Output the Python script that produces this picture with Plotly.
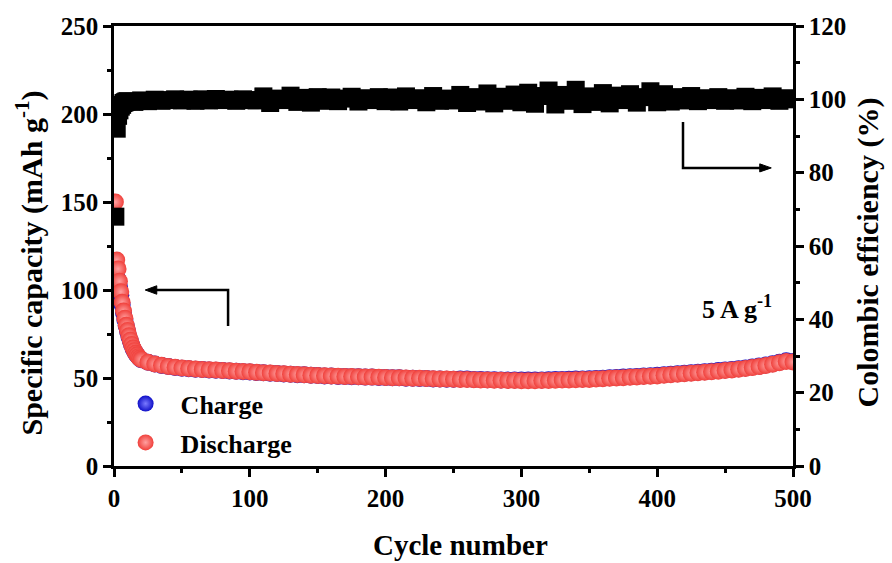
import plotly.graph_objects as go

# ---------------- data ----------------
cycles = list(range(1, 21)) + list(range(25, 501, 5))

discharge = [150, 117, 112, 105, 99, 93, 88, 84, 80, 77, 74, 71.5, 69, 67, 65.5, 64, 63, 62, 61.2, 60.5,
             59, 58, 57.2, 56.6, 56.1, 55.7, 55.4, 55.1, 54.9, 54.7, 54.5, 54.3, 54.1, 53.9, 53.7, 53.5,
             53.2, 53.0, 52.8, 52.6, 52.4, 52.2, 52.0, 51.8, 51.6, 51.4,
             51.3, 51.2, 51.0, 50.9, 50.8, 50.7, 50.6, 50.5, 50.4, 50.3,
             50.2, 50.1, 50.0, 49.9, 49.8, 49.7, 49.6, 49.5, 49.4, 49.3,
             49.2, 49.1, 49.0, 48.9, 48.8, 48.7, 48.7, 48.6, 48.6, 48.5,
             48.5, 48.5, 48.6, 48.6, 48.7, 48.8, 48.9, 49.0, 49.1, 49.2,
             49.4, 49.6, 49.8, 50.0, 50.2, 50.4, 50.6, 50.8, 51.0, 51.2,
             51.5, 51.8, 52.1, 52.4, 52.7, 53.0, 53.3, 53.6, 53.9, 54.2,
             54.6, 55.0, 55.4, 55.9, 56.5, 57.1, 57.8, 58.6, 59.4, 59.1]

charge = [102, 107, 106, 102, 97, 91.5, 87, 83, 79.5, 76.5, 73.5, 71, 68.7, 66.8, 65.3, 63.9, 62.9, 61.9, 61.1, 60.4,
          58.9, 57.9, 57.1, 56.5, 56.0, 55.6, 55.3, 55.0, 54.8, 54.6, 54.4, 54.2, 54.0, 53.8, 53.6, 53.4,
          53.1, 53.0, 52.7, 52.6, 52.3, 52.2, 51.9, 51.8, 51.5, 51.4,
          51.2, 51.2, 50.9, 50.9, 50.7, 50.7, 50.5, 50.5, 50.3, 50.3,
          50.1, 50.1, 49.9, 49.9, 49.7, 49.7, 49.5, 49.5, 49.3, 49.3,
          49.5, 49.4, 49.2, 49.2, 49.0, 49.0, 48.9, 48.9, 48.8, 48.8,
          48.8, 48.9, 48.9, 49.0, 49.1, 49.2, 49.3, 49.4, 49.5, 49.6,
          49.7, 49.9, 50.1, 50.3, 50.5, 50.7, 50.9, 51.1, 51.3, 51.5,
          51.8, 52.1, 52.4, 52.7, 53.0, 53.3, 53.6, 53.9, 54.2, 54.5,
          54.9, 55.3, 55.7, 56.2, 56.8, 57.4, 58.1, 58.9, 59.8, 59.4]

ce_cycles = list(range(1, 11)) + list(range(15, 501, 5))
ce = [68, 92, 95.5, 97, 98, 98.5, 99, 99.2, 99.4, 99.5,
      99.3, 99.7, 99.5, 99.9, 99.6, 99.8, 100.0, 99.7,
      99.9, 99.6, 100.0, 99.7, 100.1, 99.8, 99.9, 99.6, 100.0, 99.8,
      99.7, 100.8, 99.0, 100.2, 99.8, 101.0, 99.3, 100.4, 99.1, 100.6,
      99.6, 100.5, 99.5, 100.2, 100.7, 99.4, 100.3, 99.8, 100.6, 99.5,
      100.5, 99.4, 100.8, 99.8, 100.3, 99.2, 100.9, 99.6, 100.2, 99.7,
      101.2, 99.0, 100.6, 99.4, 101.6, 98.9, 100.7, 99.6, 101.3, 99.2,
      101.8, 98.8, 100.9, 102.4, 98.6, 101.2, 99.6, 102.6, 98.7, 100.8,
      99.3, 101.7, 98.9, 101.0, 99.8, 101.4, 99.1, 100.6, 102.2, 99.2,
      101.4, 99.4, 100.6, 99.7, 100.9, 99.5, 100.3, 99.8, 100.6, 99.6,
      100.3, 99.7, 100.7, 99.5, 100.4, 99.8, 100.8, 99.6, 100.3, 100.0]

# ---------------- figure ----------------
FONT = "Liberation Serif, Times New Roman, serif"

fig = go.Figure()

fig.add_trace(go.Scatter(
    x=cycles, y=charge, mode="markers", name="<b>Charge</b>", legendgroup="a",
    marker=dict(symbol="circle", size=17, color="#1010c8",
                gradient=dict(type="radial", color="#7a7aff"), line=dict(width=0)),
))
fig.add_trace(go.Scatter(
    x=cycles, y=discharge, mode="markers", name="<b>Discharge</b>", legendgroup="b",
    marker=dict(symbol="circle", size=17, color="#f0403b",
                gradient=dict(type="radial", color="#ffa0a0"), line=dict(width=0)),
))
fig.add_trace(go.Scatter(
    x=ce_cycles, y=ce, mode="markers", yaxis="y2", showlegend=False,
    marker=dict(symbol="square", size=18, color="black", line=dict(width=0)),
))

axis_common = dict(
    showline=True, linecolor="black", linewidth=2.5,
    ticks="outside", ticklen=8, tickwidth=2.5, tickcolor="black",
    showgrid=False, zeroline=False,
    tickfont=dict(family=FONT, size=25, color="black", weight="bold"),
)

fig.update_layout(
    width=892, height=563,
    margin=dict(l=114, r=99, t=26, b=97),
    paper_bgcolor="white", plot_bgcolor="white",
    font=dict(family=FONT, color="black"),
    xaxis=dict(
        range=[0, 500], dtick=100, tick0=0, mirror=True,
        minor=dict(ticks="outside", ticklen=4, tickwidth=2.5, dtick=50, tickcolor="black"),
        **axis_common,
    ),
    yaxis=dict(
        range=[0, 250], dtick=50, tick0=0,
        minor=dict(ticks="outside", ticklen=4, tickwidth=2.5, dtick=25, tickcolor="black"),
        **axis_common,
    ),
    yaxis2=dict(
        range=[0, 120], dtick=20, tick0=0, overlaying="y", side="right",
        minor=dict(ticks="outside", ticklen=4, tickwidth=2.5, dtick=10, tickcolor="black"),
        **axis_common,
    ),
    legend=dict(
        x=-0.005, y=0.195, xanchor="left", yanchor="top",
        bgcolor="rgba(0,0,0,0)", borderwidth=0,
        font=dict(family=FONT, size=26, color="black"),
        itemsizing="trace", itemwidth=60, tracegroupgap=2,
    ),
    showlegend=True,
)

# axis titles
fig.add_annotation(x=0.511, y=-0.18, xref="paper", yref="paper", text="<b>Cycle number</b>",
                   showarrow=False, xanchor="center", yanchor="middle",
                   font=dict(family=FONT, size=29, color="black"))
fig.add_annotation(x=-0.124, y=0.462, xref="paper", yref="paper",
                   text="<b>Specific capacity (mAh g<sup>-1</sup>)</b>", textangle=-90,
                   showarrow=False, xanchor="center", yanchor="middle",
                   font=dict(family=FONT, size=30, color="black"))
fig.add_annotation(x=1.111, y=0.486, xref="paper", yref="paper",
                   text="<b>Colombic efficiency (%)</b>", textangle=-90,
                   showarrow=False, xanchor="center", yanchor="middle",
                   font=dict(family=FONT, size=30, color="black"))

# "5 A g-1" label
fig.add_annotation(x=459, y=90, xref="x", yref="y", text="<b>5 A g<sup>-1</sup></b>",
                   showarrow=False, font=dict(family=FONT, size=26, color="black"))

# left arrow (points to capacity axis)
fig.add_shape(type="path", xref="x", yref="y",
              path="M 84,79.5 L 84,100 L 30,100", line=dict(color="black", width=2.5))
fig.add_shape(type="path", xref="x", yref="y",
              path="M 23,100 L 31.5,102.4 L 31.5,97.6 Z",
              fillcolor="black", line=dict(color="black", width=1))

# right arrow (points to CE axis)
fig.add_shape(type="path", xref="x", yref="y2",
              path="M 419,93.8 L 419,81.3 L 477,81.3", line=dict(color="black", width=2.5))
fig.add_shape(type="path", xref="x", yref="y2",
              path="M 484,81.3 L 475.5,82.4 L 475.5,80.2 Z",
              fillcolor="black", line=dict(color="black", width=1))

fig.write_html("out.html")
